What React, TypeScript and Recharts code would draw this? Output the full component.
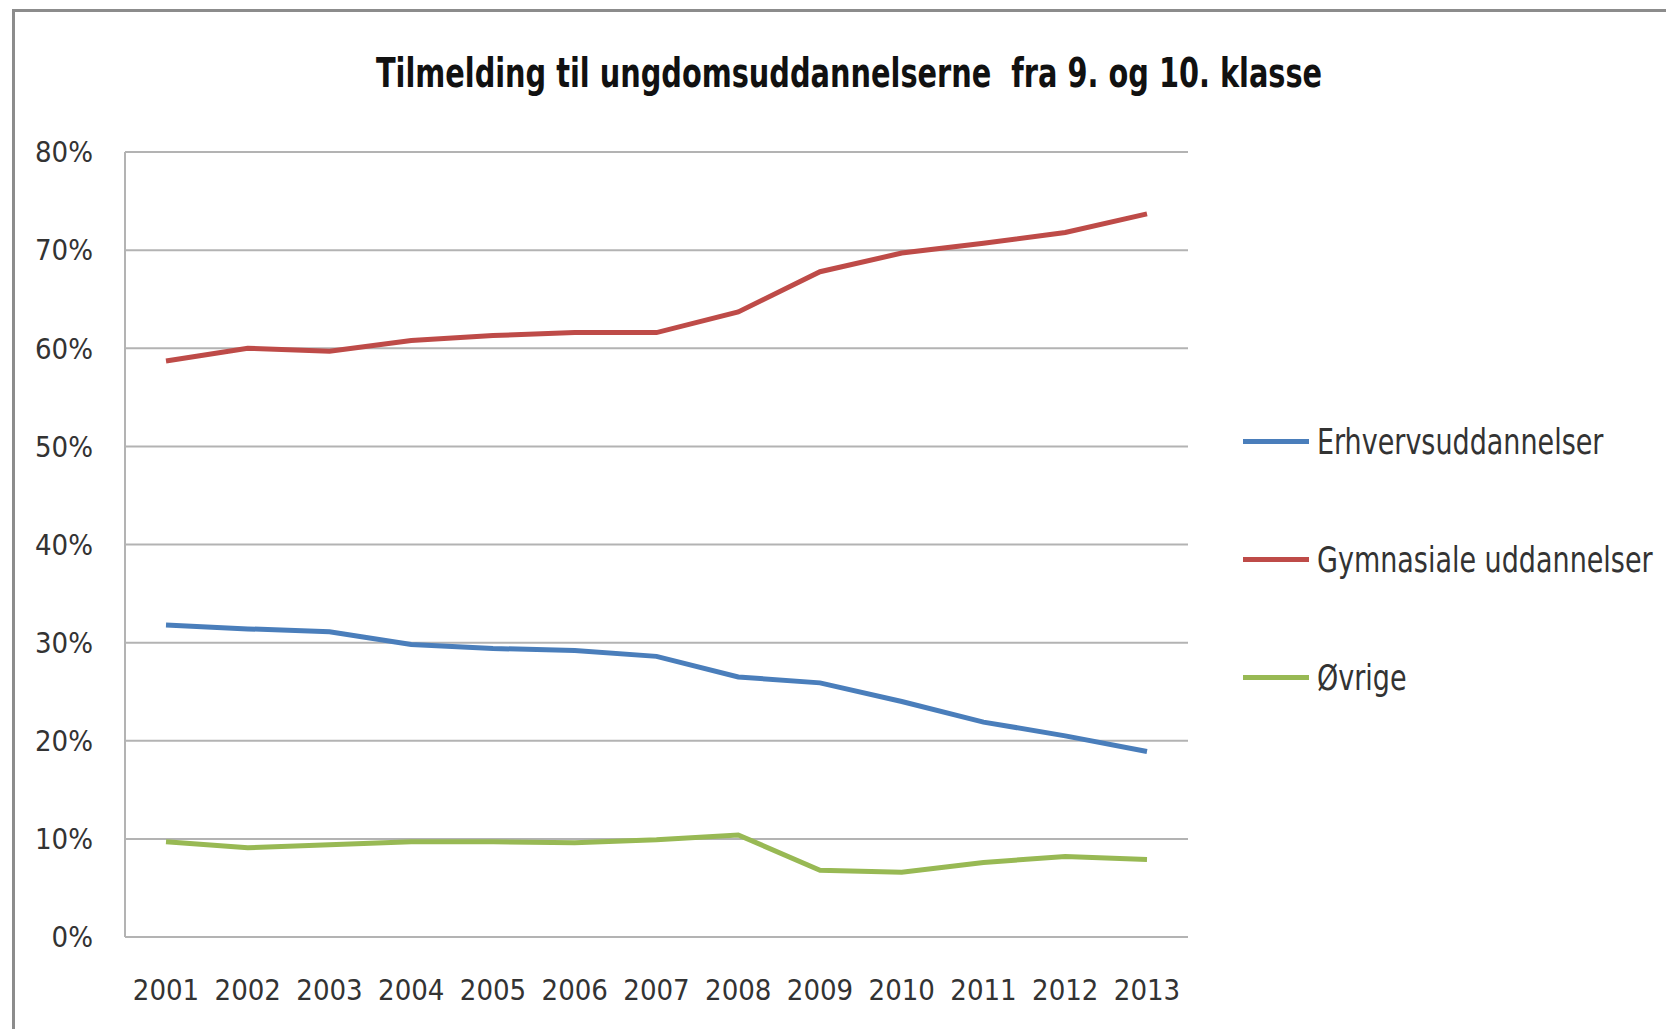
import { LineChart, Line, XAxis, YAxis, CartesianGrid, Legend } from "recharts";

const years = ["2001", "2002", "2003", "2004", "2005", "2006", "2007", "2008", "2009", "2010", "2011", "2012", "2013"];
const erhverv = [31.8, 31.4, 31.1, 29.8, 29.4, 29.2, 28.6, 26.5, 25.9, 24.0, 21.9, 20.5, 18.9];
const gymnasiale = [58.7, 60.0, 59.7, 60.8, 61.3, 61.6, 61.6, 63.7, 67.8, 69.7, 70.7, 71.8, 73.7];
const ovrige = [9.7, 9.1, 9.4, 9.7, 9.7, 9.6, 9.9, 10.4, 6.8, 6.6, 7.6, 8.2, 7.9];
const yTicks = [0, 10, 20, 30, 40, 50, 60, 70, 80];

const series = [
  { key: "erhverv", name: "Erhvervsuddannelser", color: "#4a7ebb", values: erhverv },
  { key: "gym", name: "Gymnasiale uddannelser", color: "#be4b48", values: gymnasiale },
  { key: "ovrige", name: "Øvrige", color: "#98b954", values: ovrige },
];

const data = years.map((year, i) => {
  const row: Record<string, string | number> = { year };
  series.forEach((s) => (row[s.key] = s.values[i]));
  return row;
});

const FONT = "'Liberation Sans Narrow', 'DejaVu Sans Condensed', 'Liberation Sans', sans-serif";
const GRID = "#b3b3b3";

function LegendBox() {
  return (
    <div style={{ fontFamily: FONT, fontSize: 30, color: "#333", whiteSpace: "nowrap" }}>
      {series.map((s) => (
        <div key={s.key} style={{ display: "flex", alignItems: "center", height: 118 }}>
          <div style={{ width: 66, height: 5, background: s.color, marginRight: 8 }} />
          <span style={{ display: "inline-block", transform: "scaleY(1.2)" }}>{s.name}</span>
        </div>
      ))}
    </div>
  );
}

export default function App() {
  return (
    <div
      style={{
        position: "absolute",
        left: 0,
        top: 0,
        width: 1666,
        height: 1029,
        overflow: "hidden",
        background: "#fff",
      }}
    >
      <div
        style={{
          position: "absolute",
          left: 12,
          top: 9,
          width: 1700,
          height: 1100,
          borderLeft: "3px solid #8c8c8c",
          borderTop: "3px solid #8c8c8c",
        }}
      />
      <div
        style={{
          position: "absolute",
          left: 0,
          width: 1698,
          top: 54,
          textAlign: "center",
          fontFamily: FONT,
          fontWeight: "bold",
          fontSize: 32,
          color: "#111",
          transform: "scaleY(1.25)",
        }}
      >
        Tilmelding til ungdomsuddannelserne&nbsp; fra 9. og 10. klasse
      </div>
      <div style={{ position: "absolute", left: 0, top: 0 }}>
        <LineChart
          width={1666}
          height={1029}
          data={data}
          margin={{ top: 152, right: 478, bottom: 0, left: 0 }}
        >
          <CartesianGrid vertical={false} stroke={GRID} strokeWidth={2} />
          <XAxis
            dataKey="year"
            height={92}
            padding={{ left: 41, right: 41 }}
            tickLine={false}
            tickSize={0}
            tickMargin={42}
            axisLine={{ stroke: GRID, strokeWidth: 2 }}
            tick={{ fill: "#333", fontSize: 29, fontFamily: FONT }}
            interval={0}
          />
          <YAxis
            width={125}
            domain={[0, 80]}
            ticks={yTicks}
            tickFormatter={(v) => `${v}%`}
            tickLine={false}
            tickSize={0}
            tickMargin={32}
            axisLine={{ stroke: GRID, strokeWidth: 2 }}
            tick={{ fill: "#333", fontSize: 29, fontFamily: FONT }}
          />
          {series.map((s) => (
            <Line
              key={s.key}
              dataKey={s.key}
              name={s.name}
              type="linear"
              stroke={s.color}
              strokeWidth={5}
              dot={false}
              isAnimationActive={false}
            />
          ))}
          <Legend
            layout="vertical"
            align="center"
            verticalAlign="middle"
            content={() => <LegendBox />}
            wrapperStyle={{ left: 1243, top: 382, width: 420 }}
          />
        </LineChart>
      </div>
    </div>
  );
}
